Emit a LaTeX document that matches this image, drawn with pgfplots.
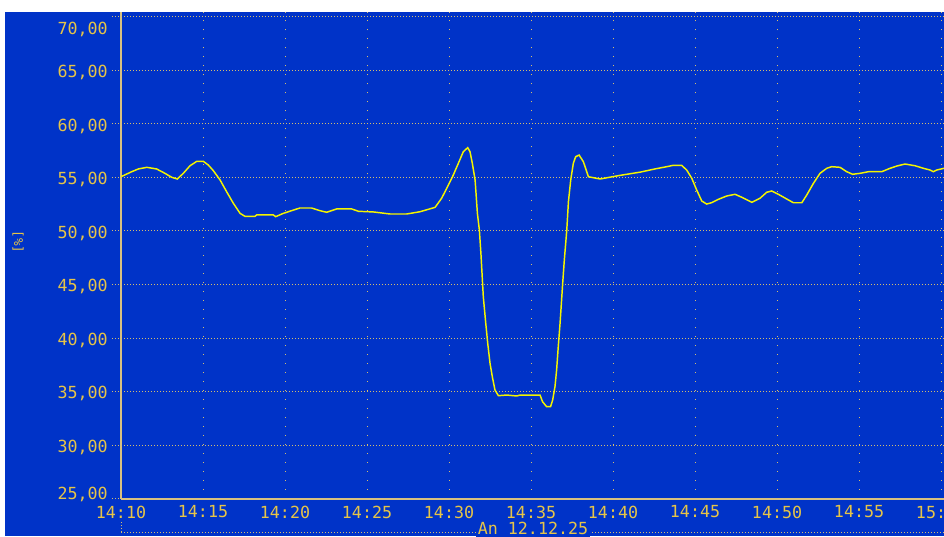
\documentclass[border=0pt]{standalone}
\usepackage{fontspec}
\setmainfont{DejaVu Sans Mono}
\usepackage{pgfplots}
\pgfplotsset{compat=1.18}
\definecolor{bg}{HTML}{0033C8}
\definecolor{lab}{HTML}{E6C448}
\definecolor{axl}{HTML}{D8C080}
\definecolor{grd}{HTML}{D4BC70}
\definecolor{crv}{HTML}{F4F400}
\newcommand\yl[2]{\smash{\raisebox{#1}{#2}}}
\begin{document}
\begin{tikzpicture}
\path[use as bounding box, fill=white] (0pt,0pt) rectangle (708pt,402pt);
\fill[bg] (3.75pt,0pt) rectangle (708pt,393pt);
\begin{axis}[
  at={(90.75pt,28.125pt)}, anchor=south west,
  scale only axis, width=617.25pt, height=364.9pt,
  xmin=0, xmax=50.18, ymin=25, ymax=70.47,
  axis x line*=bottom, axis y line*=left,
  axis line style={-, draw=axl, line width=1.5pt},
  xmajorgrids, ymajorgrids,
  x grid style={grd, line width=0.75pt, dash pattern=on 0.75pt off 6pt},
  y grid style={grd, line width=0.75pt, dash pattern=on 0.75pt off 1.5pt},
  tick align=outside, major tick length=6.75pt,
  xtick style={draw=none},
  ytick style={grd, line width=0.75pt, dash pattern=on 0.75pt off 1.5pt},
  xtick={0,5,...,50},
  xticklabels={14:10,14:15,14:20,14:25,14:30,14:35,14:40,14:45,14:50,14:55,15:00},
  ytick={25,30,...,70},
  yticklabels={{\yl{-0.75pt}{25,00}},{\yl{-5.5pt}{30,00}},{\yl{-5.5pt}{35,00}},{\yl{-5.5pt}{40,00}},{\yl{-5.5pt}{45,00}},{\yl{-5.5pt}{50,00}},{\yl{-5.5pt}{55,00}},{\yl{-5.5pt}{60,00}},{\yl{-5.5pt}{65,00}},{\yl{-13.5pt}{70,00}}},
  tick label style={font=\fontsize{12.5}{14}\selectfont, text=lab},
  yticklabel style={anchor=east, inner sep=0pt, xshift=-3pt},
  xticklabel style={anchor=north, inner sep=0pt, yshift=1.5pt},
  clip=true,
]
\addplot[crv, line width=1.1pt] coordinates {
(0,55.07)(0.65,55.54)(1.06,55.8)(1.57,55.95)(2.17,55.8)(2.68,55.39)(3.09,55.02)(3.43,54.86)
(3.8,55.39)(4.21,56.1)(4.62,56.51)(5.02,56.51)(5.32,56.17)(5.63,55.64)(6.04,54.77)(6.44,53.67)
(6.85,52.59)(7.26,51.65)(7.56,51.37)(8.17,51.37)(8.27,51.5)(9.29,51.5)(9.43,51.34)(9.9,51.65)
(10.4,51.9)(10.91,52.15)(11.62,52.15)(12.13,51.9)(12.54,51.75)(13.15,52.06)(14.07,52.06)
(14.48,51.84)(15.39,51.78)(16.4,51.59)(17.42,51.59)(18.23,51.8)(19.15,52.21)(19.55,53.06)
(19.86,53.99)(20.26,55.23)(20.57,56.33)(20.87,57.41)(21.14,57.79)(21.28,57.41)(21.42,56.33)
(21.59,54.77)(21.73,51.65)(21.85,50.09)(21.95,47.76)(22.09,43.86)(22.24,41.37)(22.36,39.5)
(22.5,37.64)(22.64,36.38)(22.8,35.14)(23.01,34.61)(23.52,34.67)(24.13,34.58)(24.33,34.67)
(25.55,34.67)(25.7,34.05)(25.95,33.58)(26.19,33.58)(26.32,34.21)(26.46,35.45)(26.56,37.0)
(26.66,39.19)(26.77,41.37)(26.93,45.11)(27.03,47.29)(27.18,50.09)(27.28,52.74)(27.42,54.77)
(27.58,56.33)(27.72,56.94)(27.93,57.1)(28.19,56.48)(28.5,55.07)(29.21,54.86)(30.43,55.2)
(31.65,55.5)(32.56,55.8)(33.27,56.01)(33.68,56.14)(34.18,56.14)(34.49,55.7)(34.8,54.93)
(35.1,53.83)(35.41,52.8)(35.71,52.52)(36.02,52.65)(36.42,52.96)(36.93,53.27)(37.44,53.43)
(37.85,53.15)(38.46,52.68)(38.96,53.06)(39.37,53.62)(39.68,53.74)(40.08,53.43)(40.59,52.99)
(41.0,52.64)(41.51,52.64)(41.81,53.36)(42.22,54.46)(42.62,55.39)(43.03,55.86)(43.33,56.01)
(43.84,55.95)(44.25,55.54)(44.61,55.3)(45.06,55.39)(45.57,55.54)(46.38,55.54)(46.89,55.86)
(47.3,56.07)(47.8,56.26)(48.41,56.1)(48.92,55.86)(49.33,55.7)(49.53,55.54)(49.74,55.7)(50.18,55.86)
};
\end{axis}
\draw[grd, line width=0.75pt, dash pattern=on 0.75pt off 1.5pt] (90.75pt,3pt) -- (708pt,3pt);
\draw[grd, line width=0.75pt, dash pattern=on 0.75pt off 1.5pt] (90.75pt,3pt) -- (90.75pt,11.25pt);
\node[fill=bg, inner sep=1pt, text=lab, font=\fontsize{12.5}{14}\selectfont, anchor=north] at (399.75pt,11.25pt) {An 12.12.25};
\node[rotate=-90, text=lab, font=\fontsize{9.5}{10}\selectfont] at (13.5pt,220.5pt) {[\%]};
\end{tikzpicture}
\end{document}
